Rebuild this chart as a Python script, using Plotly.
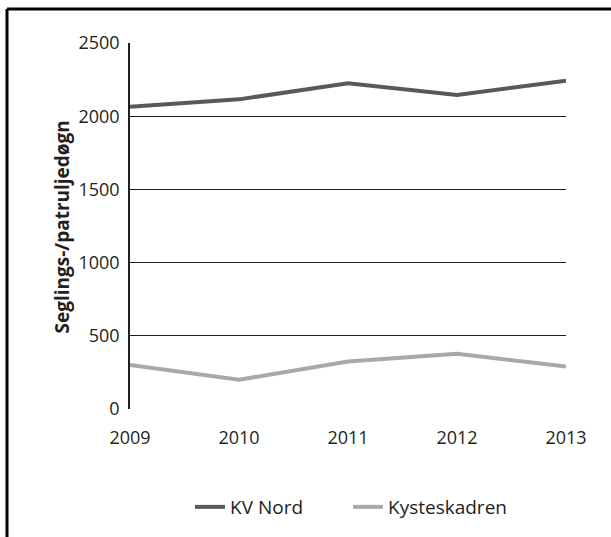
import plotly.graph_objects as go

years = [2009, 2010, 2011, 2012, 2013]
kv_nord = [2065, 2115, 2225, 2145, 2242]
kysteskadren = [300, 200, 325, 378, 290]
y_ticks = [0, 500, 1000, 1500, 2000, 2500]

W, H = 611, 537
L, R, T, B = 130, 45, 43, 127
pw, ph = W - L - R, H - T - B


def px_x(x):
    return (x - L) / pw


def px_y(y):
    return (H - B - y) / ph


fig = go.Figure()

fig.add_trace(
    go.Scatter(
        x=years,
        y=kv_nord,
        mode="lines",
        line=dict(color="#58595b", width=4),
        name="KV Nord",
    )
)
fig.add_trace(
    go.Scatter(
        x=years,
        y=kysteskadren,
        mode="lines",
        line=dict(color="#a7a9ac", width=4),
        name="Kysteskadren",
    )
)

# cropped frame: only top and left edges show
fig.add_shape(type="line", xref="paper", yref="paper",
              x0=px_x(7), x1=px_x(640), y0=px_y(9), y1=px_y(9),
              line=dict(color="#000000", width=3))
fig.add_shape(type="line", xref="paper", yref="paper",
              x0=px_x(7), x1=px_x(7), y0=px_y(9), y1=px_y(560),
              line=dict(color="#000000", width=3))

fig.add_annotation(
    text="<b>Seglings-/patruljedøgn</b>",
    xref="paper", yref="paper",
    x=px_x(62), y=px_y(228),
    xanchor="center", yanchor="middle",
    textangle=-90, showarrow=False,
    font=dict(size=19, color="#231f20"),
)

fig.update_layout(
    width=W,
    height=H,
    margin=dict(l=L, r=R, t=T, b=B),
    paper_bgcolor="#ffffff",
    plot_bgcolor="#ffffff",
    font=dict(family="Open Sans, sans-serif", size=18, color="#231f20"),
    showlegend=True,
    legend=dict(
        orientation="h",
        x=px_x(190),
        xanchor="left",
        y=px_y(507),
        yanchor="middle",
        font=dict(size=19, color="#231f20"),
        itemwidth=30,
        entrywidth=113,
        entrywidthmode="pixels",
        bgcolor="rgba(255,255,255,0)",
    ),
    xaxis=dict(
        range=[2009, 2013],
        tickvals=years,
        showgrid=False,
        zeroline=False,
        showline=False,
        ticks="",
        ticklabelstandoff=16,
    ),
    yaxis=dict(
        range=[0, 2500],
        tickvals=y_ticks,
        showgrid=True,
        gridcolor="#231f20",
        gridwidth=1.2,
        zeroline=False,
        showline=True,
        linecolor="#231f20",
        linewidth=1.5,
        ticks="",
        ticklabelstandoff=5,
    ),
)

fig.write_html(
    "out.html",
    config={"displayModeBar": False},
    post_script="document.body.style.margin='0';",
)
